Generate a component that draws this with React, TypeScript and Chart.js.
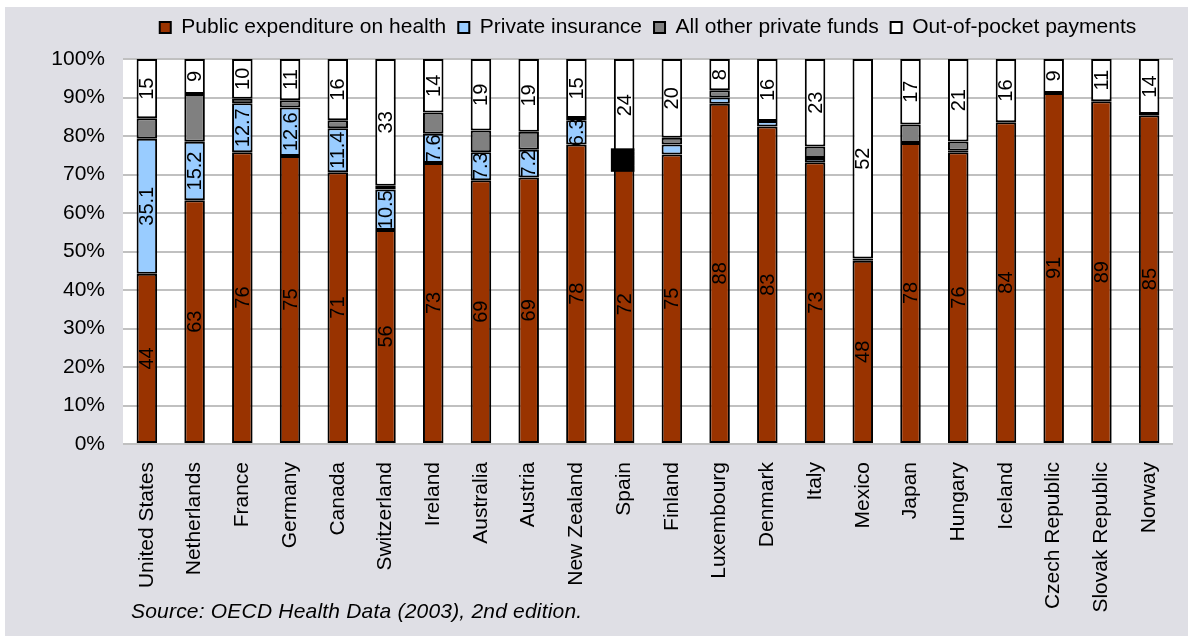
import React, { useEffect, useRef } from 'react';
import { Chart, registerables } from 'chart.js';

Chart.register(...registerables);

const categories = [
  'United States', 'Netherlands', 'France', 'Germany', 'Canada', 'Switzerland',
  'Ireland', 'Australia', 'Austria', 'New Zealand', 'Spain', 'Finland',
  'Luxembourg', 'Denmark', 'Italy', 'Mexico', 'Japan', 'Hungary', 'Iceland',
  'Czech Republic', 'Slovak Republic', 'Norway',
];

const publicExpenditure = [44.2, 63.3, 75.8, 74.8, 70.6, 55.6, 73.0, 68.5, 69.2, 77.8, 72.4, 75.2, 88.4, 82.5, 73.2, 47.6, 78.2, 75.8, 83.6, 91.2, 89.0, 85.4];
const privateInsurance = [35.1, 15.2, 12.7, 12.6, 11.4, 10.5, 7.6, 7.3, 7.2, 6.3, 2.6, 2.6, 1.6, 1.4, 1.1, 0.6, null, 0.4, null, null, null, 0.3];
const otherPrivateFunds = [5.3, 12.4, 1.2, 1.9, 2.1, 1.0, 5.5, 5.6, 4.7, 0.6, 1.0, 1.75, 1.9, null, 3.0, null, 4.8, 2.4, null, null, null, null];
const outOfPocket = [15.4, 9.1, 10.3, 10.7, 15.9, 32.9, 13.9, 18.6, 18.9, 15.3, 24.0, 20.45, 8.1, 16.1, 22.7, 51.8, 17.0, 21.4, 16.4, 8.8, 11.0, 14.3];

const seriesNames = ['Public expenditure on health', 'Private insurance', 'All other private funds', 'Out-of-pocket payments'];
const seriesColors = ['#993300', '#99ccff', '#808080', '#ffffff'];

const yMin = 0;
const yMax = 100;
const yStep = 10;

// Black block drawn over the Spain bar in the source picture (value range, %)
const markerCategory = 'Spain';
const markerFrom = 70.7;
const markerTo = 76.8;

const sourceNote = 'Source: OECD Health Data (2003), 2nd edition.';

const FONT = "'Liberation Sans', Arial, sans-serif";

const labelFormatters: Array<(v: number) => string> = [
  (v) => String(Math.round(v)),
  (v) => (v >= 5 ? v.toFixed(1) : ''),
  () => '',
  (v) => String(Math.round(v)),
];

const plotBgPlugin = {
  id: 'plotBg',
  beforeDraw(chart: any) {
    const { ctx, chartArea } = chart;
    ctx.save();
    ctx.fillStyle = '#ffffff';
    ctx.fillRect(chartArea.left, chartArea.top, chartArea.right - chartArea.left, chartArea.bottom - chartArea.top);
    ctx.restore();
  },
};

const legendCenterPlugin = {
  id: 'legendCenter',
  afterLayout(chart: any) {
    const lg = chart.legend;
    if (!lg) return;
    lg.left = chart.chartArea.left;
    lg.right = chart.chartArea.right;
    lg.width = lg.right - lg.left;
  },
};

const markerPlugin = {
  id: 'marker',
  afterDatasetsDraw(chart: any) {
    const idx = categories.indexOf(markerCategory);
    if (idx < 0) return;
    const el = chart.getDatasetMeta(0).data[idx];
    if (!el) return;
    const { x, width } = el.getProps(['x', 'width'], true);
    const yS = chart.scales.y;
    const top = yS.getPixelForValue(markerTo);
    const bot = yS.getPixelForValue(markerFrom);
    const ctx = chart.ctx;
    ctx.save();
    ctx.fillStyle = '#000';
    ctx.fillRect(x - width / 2 - 3, top, width + 3, bot - top);
    ctx.restore();
  },
};

const valueLabelPlugin = {
  id: 'valueLabels',
  afterDatasetsDraw(chart: any) {
    const ctx = chart.ctx;
    chart.data.datasets.forEach((ds: any, di: number) => {
      const fmt = labelFormatters[di];
      const meta = chart.getDatasetMeta(di);
      meta.data.forEach((el: any, i: number) => {
        const v = ds.data[i];
        if (v == null) return;
        const t = fmt(v);
        if (!t) return;
        const { x, y, base } = el.getProps(['x', 'y', 'base'], true);
        ctx.save();
        ctx.translate(x, (y + base) / 2);
        ctx.rotate(-Math.PI / 2);
        ctx.font = `20px ${FONT}`;
        ctx.fillStyle = '#000';
        ctx.textAlign = 'center';
        ctx.textBaseline = 'middle';
        ctx.fillText(t, 0, 1);
        ctx.restore();
      });
    });
  },
};

export default function App() {
  const canvasRef = useRef<HTMLCanvasElement | null>(null);

  useEffect(() => {
    if (!canvasRef.current) return;
    const seriesData = [publicExpenditure, privateInsurance, otherPrivateFunds, outOfPocket];
    const chart = new Chart(canvasRef.current, {
      type: 'bar',
      data: {
        labels: categories,
        datasets: seriesNames.map((name, i) => ({
          label: name,
          data: seriesData[i],
          backgroundColor: seriesColors[i],
          borderColor: '#000000',
          borderWidth: 2,
          borderSkipped: false,
          barPercentage: 0.43,
          categoryPercentage: 1,
        })),
      },
      options: {
        responsive: false,
        animation: false,
        layout: { padding: { top: 5, left: 0, right: 15, bottom: 0 } },
        plugins: {
          legend: {
            position: 'top',
            labels: {
              font: { size: 21, family: FONT },
              color: '#000',
              boxWidth: 11,
              boxHeight: 11,
              padding: 12,
            },
          },
          subtitle: {
            display: true,
            text: '',
            position: 'top',
            weight: 500,
            font: { size: 1, lineHeight: 1 },
            padding: { top: 0, bottom: 10 },
          },
          tooltip: { enabled: false },
        },
        scales: {
          x: {
            stacked: true,
            grid: { display: false },
            border: { display: false },
            ticks: {
              font: { size: 21, family: FONT },
              color: '#000',
              maxRotation: 90,
              minRotation: 90,
              autoSkip: false,
              padding: 10,
            },
            afterFit(scale: any) {
              scale.height = 192;
            },
          },
          y: {
            stacked: true,
            min: yMin,
            max: yMax,
            ticks: {
              stepSize: yStep,
              font: { size: 21, family: FONT },
              color: '#000',
              padding: 18,
              callback: (v: any) => `${v}%`,
            },
            grid: { color: '#c0c0c0', lineWidth: 2, drawTicks: false },
            border: { display: false },
            afterFit(scale: any) {
              scale.width = 123;
            },
          },
        },
      },
      plugins: [plotBgPlugin, legendCenterPlugin, markerPlugin, valueLabelPlugin],
    } as any);
    return () => chart.destroy();
  }, []);

  return (
    <div style={{ position: 'fixed', left: 0, top: 0, width: 1188, height: 636, background: '#ffffff', overflow: 'hidden' }}>
      <div style={{ position: 'absolute', left: 5, top: 7, right: 0, bottom: 0, background: '#dfdfe5' }} />
      <canvas ref={canvasRef} width={1188} height={636} style={{ position: 'absolute', left: 0, top: 0 }} />
      <div
        style={{
          position: 'absolute',
          left: 131,
          top: 598,
          fontFamily: FONT,
          fontStyle: 'italic',
          fontSize: 21,
          lineHeight: '26px',
          letterSpacing: '0.2px',
          color: '#000',
          whiteSpace: 'nowrap',
        }}
      >
        {sourceNote}
      </div>
    </div>
  );
}
